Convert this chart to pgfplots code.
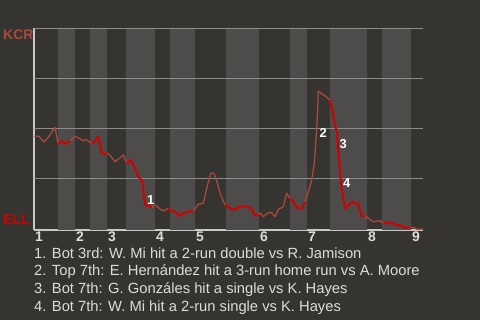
\documentclass[border=0pt]{standalone}
\usepackage{pgfplots}
\pgfplotsset{compat=1.18}
\usepackage{pgfplotstable}
\usepackage{fontspec}
\setmainfont{Liberation Sans}
\definecolor{bgc}{HTML}{363430}
\definecolor{band}{HTML}{4D4C4A}
\definecolor{kcr}{HTML}{A8493A}
\definecolor{ell}{HTML}{D00000}
\definecolor{gridc}{HTML}{8C8C8C}
\definecolor{axc}{HTML}{C8C8C8}
\definecolor{txt}{HTML}{DCDCDC}

\pgfplotstableread{
x y
34 46.0
39 46.0
44 43.15
49 46.0
52.7 48.8
55 50.5
58.3 42.15
61.7 43.5
66 42.15
70 43.8
75 46.0
80 44.8
83.3 43.8
86 44.5
91.7 42.15
95 43.8
98.3 45.8
101.7 37.65
104 37.15
106.7 37.8
110 36.5
115 33.3
120 35.3
123.3 36.65
126.7 32.5
130.7 34.15
135 30.0
138.3 25.8
142.3 23.65
144.3 14.15
146 11.3
150 11.3
151.7 10.3
155 11.65
160 9.65
163.3 8.65
168.3 10.0
171.7 8.3
175 8.3
179.3 6.15
183.3 7.5
188.3 8.3
193.3 8.65
198.3 12.0
203.3 12.5
206.7 20.0
210.7 27.5
214 27.5
217.3 22.65
220 17.65
225 11.65
228.3 10.8
231.7 9.5
235 9.5
240 10.8
248.3 10.8
251.7 9.5
255 6.15
258.3 7.15
260.7 7.5
263.3 5.8
268.3 7.8
271.7 7.8
275 5.8
278.3 9.5
283.3 10.8
286.7 17.5
290 15.0
293.3 13.3
297.3 10.0
301.7 10.0
305 13.15
308.3 18.15
311.7 24.15
314.3 32.5
316.7 50.0
317.7 60.0
318.3 68.65
321 67.5
325 66.3
330 64.15
332.3 59.15
334.3 53.3
336.7 48.3
338.3 38.3
340 28.3
341.7 19.65
345 10.0
347.3 10.8
351.7 13.3
355 12.5
358.3 12.15
361.7 5.8
365 6.15
368.3 5.0
373.3 3.3
380 3.8
383.3 2.5
388.3 2.8
391.7 2.8
395 1.65
400 1.65
403.3 0.5
410 0.3
413.3 0.5
416.7 -0.5
423.3 -0.5
}\wp

\begin{document}
\begin{tikzpicture}[x=1bp,y=1bp]
\fill[bgc] (-34,-90) rectangle (446,230);
\begin{axis}[at={(0,0)}, anchor=south west, scale only axis,
  width=389bp, height=202bp,
  xmin=34, xmax=423, ymin=-0.85, ymax=100.15,
  axis x line=bottom, axis y line=left,
  axis line style={axc, line width=1.2bp, -},
  ytick=\empty,
  xtick={34,75,107,155,195,259,307,367,411},
  xticklabels={\textbf{1},\textbf{2},\textbf{3},\textbf{4},\textbf{5},\textbf{6},\textbf{7},\textbf{8},\textbf{9}},
  major tick length=0pt,
  xticklabel style={anchor=north west, inner sep=0pt, xshift=1bp, yshift=-2bp,
    font=\fontsize{14}{14}\selectfont, text=txt},
  clip=false]
\fill[band] (axis cs:58,-0.85) rectangle (axis cs:75,100.15);
\fill[band] (axis cs:90,-0.85) rectangle (axis cs:107,100.15);
\fill[band] (axis cs:126,-0.85) rectangle (axis cs:155,100.15);
\fill[band] (axis cs:170,-0.85) rectangle (axis cs:195,100.15);
\fill[band] (axis cs:226,-0.85) rectangle (axis cs:259,100.15);
\fill[band] (axis cs:290,-0.85) rectangle (axis cs:307,100.15);
\fill[band] (axis cs:330,-0.85) rectangle (axis cs:367,100.15);
\fill[band] (axis cs:382,-0.85) rectangle (axis cs:411,100.15);
\draw[gridc, line width=0.8bp] (axis cs:34,25) -- (axis cs:423,25);
\draw[gridc, line width=0.8bp] (axis cs:34,50) -- (axis cs:423,50);
\draw[gridc, line width=0.8bp] (axis cs:34,75) -- (axis cs:423,75);
\draw[gridc, line width=0.8bp] (axis cs:34,100) -- (axis cs:423,100);
\addplot[kcr, line width=1.3bp, line join=round] table {\wp};
\addplot[ell, line width=2bp, line join=round, restrict x to domain=57:74] table {\wp};
\addplot[ell, line width=2bp, line join=round, restrict x to domain=90:106.8] table {\wp};
\addplot[ell, line width=2bp, line join=round, restrict x to domain=126:154] table {\wp};
\addplot[ell, line width=2bp, line join=round, restrict x to domain=168:194] table {\wp};
\addplot[ell, line width=2bp, line join=round, restrict x to domain=224:258.5] table {\wp};
\addplot[ell, line width=2bp, line join=round, restrict x to domain=289:306] table {\wp};
\addplot[ell, line width=2bp, line join=round, restrict x to domain=329:367] table {\wp};
\addplot[ell, line width=2bp, line join=round, restrict x to domain=382:411] table {\wp};
\node[font=\bfseries\fontsize{13}{13}\selectfont, text=white, inner sep=0pt] at (axis cs:150.7,14.15) {1};
\node[font=\bfseries\fontsize{13}{13}\selectfont, text=white, inner sep=0pt] at (axis cs:323.3,47.5) {2};
\node[font=\bfseries\fontsize{13}{13}\selectfont, text=white, inner sep=0pt] at (axis cs:343.3,42.15) {3};
\node[font=\bfseries\fontsize{13}{13}\selectfont, text=white, inner sep=0pt] at (axis cs:346.7,22.5) {4};
\end{axis}
\node[anchor=west, inner sep=0pt, text=kcr, font=\bfseries\fontsize{14}{14}\selectfont] at (-31,195.5) {KCR};
\node[anchor=west, inner sep=0pt, text=ell, font=\bfseries\fontsize{14}{14}\selectfont] at (-31,10.5) {ELL};
\begin{scope}[every node/.style={anchor=base west, inner sep=0pt, text=txt, font=\fontsize{14.8}{14.8}\selectfont}]
\node at (0,-28.3) {1. Bot 3rd: W. Mi hit a 2-run double vs R. Jamison};
\node at (0,-45.9) {2. Top 7th: E. Hernández hit a 3-run home run vs A. Moore};
\node at (0,-63.5) {3. Bot 7th: G. Gonzáles hit a single vs K. Hayes};
\node at (0,-81.1) {4. Bot 7th: W. Mi hit a 2-run single vs K. Hayes};
\end{scope}
\end{tikzpicture}
\end{document}
